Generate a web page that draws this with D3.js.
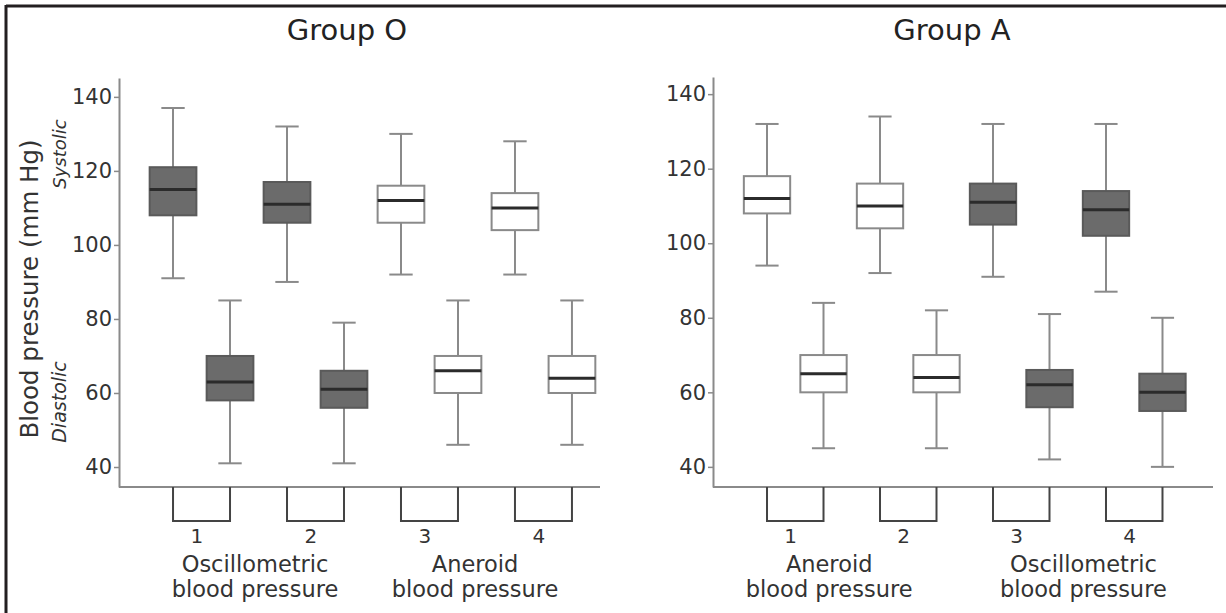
<!DOCTYPE html>
<html><head><meta charset="utf-8">
<script src="https://cdn.jsdelivr.net/npm/d3@7"></script>
<style>
html,body{margin:0;padding:0;background:#fff;}
svg{display:block;font-family:"DejaVu Sans",Verdana,sans-serif;}
</style></head>
<body>
<svg id="chart" width="1226" height="613"></svg>
<script>
// ---- data ----
const panelTitles = ["Group O", "Group A"];
const boxNumbers = ["1", "2", "3", "4"];
const yTicks = [40, 60, 80, 100, 120, 140];
// [whiskerLow, Q1, median, Q3, whiskerHigh]
const groupOSystolic = [[91,108,115,121,137],[90,106,111,117,132],[92,106,112,116,130],[92,104,110,114,128]];
const groupODiastolic = [[41,58,63,70,85],[41,56,61,66,79],[46,60,66,70,85],[46,60,64,70,85]];
const groupOShaded = [true, true, false, false];
const groupOLabels = [["Oscillometric","blood pressure"],["Aneroid","blood pressure"]];
const groupASystolic = [[94,108,112,118,132],[92,104,110,116,134],[91,105,111,116,132],[87,102,109,114,132]];
const groupADiastolic = [[45,60,65,70,84],[45,60,64,70,82],[42,56,62,66,81],[40,55,60,65,80]];
const groupAShaded = [false, false, true, true];
const groupALabels = [["Aneroid","blood pressure"],["Oscillometric","blood pressure"]];

const svg = d3.select("#chart");

// frame (top and left rules)
svg.append("line").attr("x1",6).attr("x2",1226).attr("y1",6).attr("y2",6).attr("stroke","#231f20").attr("stroke-width",3);
svg.append("line").attr("x1",6).attr("x2",6).attr("y1",5).attr("y2",613).attr("stroke","#231f20").attr("stroke-width",3);

const panels = [
  {title: panelTitles[0], sys: groupOSystolic, dia: groupODiastolic, shaded: groupOShaded, labels: groupOLabels,
   x: d3.scaleLinear().domain([-0.474, 3.746]).range([119, 600]),
   y: d3.scaleLinear().domain([34.6, 145.1]).range([487, 78]),
   titleX: 347, labelPos: [0.72, 2.65]},
  {title: panelTitles[1], sys: groupASystolic, dia: groupADiastolic, shaded: groupAShaded, labels: groupALabels,
   x: d3.scaleLinear().domain([-0.478, 3.947]).range([713, 1213]),
   y: d3.scaleLinear().domain([34.6, 144.6]).range([487, 77]),
   titleX: 952, labelPos: [0.55, 2.8]}
];

const gray = "#8a8a8a";
const boxW = 0.205; // half width in x-domain units

panels.forEach((p, pi) => {
  const g = svg.append("g");
  const x = p.x, y = p.y;
  // title
  g.append("text").attr("x", p.titleX).attr("y", 40).attr("text-anchor","middle")
    .attr("font-size", 29).attr("fill","#222").text(p.title);

  // y axis
  const ax = g.append("g").attr("transform", `translate(${x.range()[0]},0)`)
    .call(d3.axisLeft(y).tickValues(yTicks).tickSize(5).tickSizeOuter(0).tickPadding(2));
  ax.select(".domain").attr("stroke", gray).attr("stroke-width", 2);
  ax.selectAll(".tick line").attr("stroke", gray).attr("stroke-width", 1.5);
  ax.selectAll(".tick text").attr("font-size", 21).attr("fill","#333")
    .attr("font-family","DejaVu Sans, Verdana, sans-serif");

  // x axis line
  const yb = y.range()[0];
  g.append("line").attr("x1", x.range()[0]).attr("x2", x.range()[1]).attr("y1", yb).attr("y2", yb)
    .attr("stroke", gray).attr("stroke-width", 2);

  // boxes
  const drawBox = (d, pos, shaded) => {
    const cx = x(pos);
    const bw = x(pos + boxW) - x(pos - boxW);
    const bg = g.append("g");
    bg.append("line").attr("x1",cx).attr("x2",cx).attr("y1",y(d[0])).attr("y2",y(d[4]))
      .attr("stroke", gray).attr("stroke-width",2);
    [d[0], d[4]].forEach(v => {
      bg.append("line").attr("x1", x(pos - boxW*0.5)).attr("x2", x(pos + boxW*0.5))
        .attr("y1", y(v)).attr("y2", y(v)).attr("stroke", gray).attr("stroke-width",2);
    });
    bg.append("rect").attr("x", x(pos - boxW)).attr("width", bw)
      .attr("y", y(d[3])).attr("height", y(d[1]) - y(d[3]))
      .attr("fill", shaded ? "#6b6b6b" : "#fff")
      .attr("stroke", shaded ? "#5a5a5a" : gray).attr("stroke-width", 2);
    bg.append("line").attr("x1", x(pos - boxW)).attr("x2", x(pos + boxW))
      .attr("y1", y(d[2])).attr("y2", y(d[2])).attr("stroke", "#2b2b2b").attr("stroke-width", 3);
  };
  p.sys.forEach((d, i) => drawBox(d, i, p.shaded[i]));
  p.dia.forEach((d, i) => drawBox(d, i + 0.5, p.shaded[i]));

  // brackets and numbers
  boxNumbers.forEach((n, i) => {
    const x1 = x(i), x2 = x(i + 0.5);
    g.append("path").attr("d", `M${x1},${yb}V${yb+34}H${x2}V${yb}`)
      .attr("fill","none").attr("stroke","#444").attr("stroke-width",2);
    g.append("text").attr("x", x(i + 0.21)).attr("y", yb + 56).attr("text-anchor","middle")
      .attr("font-size", 20).attr("fill","#333").text(n);
  });

  // category labels
  p.labels.forEach((lab, li) => {
    const cx = x(p.labelPos[li]);
    lab.forEach((line, k) => {
      g.append("text").attr("x", cx).attr("y", yb + 85 + k*25).attr("text-anchor","middle")
        .attr("font-size", 22.5).attr("fill","#333").text(line);
    });
  });
});

// left panel y-axis titles
svg.append("text").attr("transform","translate(38,289) rotate(-90)").attr("text-anchor","middle")
  .attr("font-size", 24.5).attr("fill","#333").text("Blood pressure (mm Hg)");
svg.append("text").attr("transform","translate(66,154) rotate(-90)").attr("text-anchor","middle")
  .attr("font-size", 18).attr("font-style","italic").attr("fill","#333").text("Systolic");
svg.append("text").attr("transform","translate(66,402) rotate(-90)").attr("text-anchor","middle")
  .attr("font-size", 19).attr("font-style","italic").attr("fill","#333").text("Diastolic");
</script>
</body></html>
